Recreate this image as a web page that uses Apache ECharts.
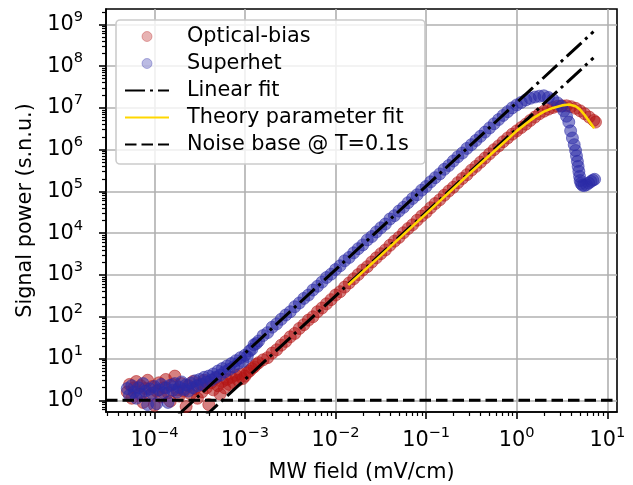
<!DOCTYPE html>
<html>
<head>
<meta charset="utf-8">
<script src="https://cdn.jsdelivr.net/npm/echarts@6/dist/echarts.min.js"></script>
<style>
html,body{margin:0;padding:0;background:#fff;}
#chart{width:633px;height:485px;}
</style>
</head>
<body>
<div id="chart"></div>
<script>
// ---------------- data ----------------
// shared field grid (mV/cm) for both measured series
const field = [
  5.012e-5, 5.309e-5, 5.623e-5, 5.957e-5, 6.310e-5, 6.683e-5, 7.079e-5, 7.499e-5, 7.943e-5, 8.414e-5,
  8.913e-5, 9.441e-5, 1.000e-4, 1.059e-4, 1.122e-4, 1.189e-4, 1.259e-4, 1.334e-4, 1.413e-4, 1.496e-4,
  1.585e-4, 1.679e-4, 1.778e-4, 1.884e-4, 1.995e-4, 2.113e-4, 2.239e-4, 2.371e-4, 2.512e-4, 2.661e-4,
  2.818e-4, 2.985e-4, 3.162e-4, 3.350e-4, 3.548e-4, 3.758e-4, 3.981e-4, 4.217e-4, 4.467e-4, 4.732e-4,
  5.012e-4, 5.309e-4, 5.623e-4, 5.957e-4, 6.310e-4, 6.683e-4, 7.079e-4, 7.499e-4, 7.943e-4, 8.414e-4,
  8.913e-4, 9.441e-4, 1.000e-3, 1.059e-3, 1.122e-3, 1.189e-3, 1.259e-3, 1.334e-3, 1.413e-3,
  1.585e-3, 1.778e-3, 1.995e-3, 2.239e-3, 2.512e-3, 2.818e-3, 3.162e-3, 3.548e-3, 3.981e-3, 4.467e-3,
  5.012e-3, 5.623e-3, 6.310e-3, 7.079e-3, 7.943e-3, 8.913e-3,
  1.000e-2, 1.122e-2, 1.259e-2, 1.413e-2, 1.585e-2, 1.778e-2, 1.995e-2, 2.239e-2, 2.512e-2, 2.818e-2,
  3.162e-2, 3.548e-2, 3.981e-2, 4.467e-2, 5.012e-2, 5.623e-2, 6.310e-2, 7.079e-2, 7.943e-2, 8.913e-2,
  0.1000, 0.1122, 0.1259, 0.1413, 0.1585, 0.1778, 0.1995, 0.2239, 0.2512, 0.2818,
  0.3162, 0.3548, 0.3981, 0.4467, 0.5012, 0.5623, 0.6310, 0.7079, 0.7943, 0.8913,
  1.000, 1.122, 1.259, 1.413, 1.585, 1.778
];
// Optical-bias signal power (s.n.u.)
const opticalPower = [
  1.58, 2.40, 1.12, 2.00, 2.82, 1.41, 2.24, 0.89, 1.91, 3.02,
  1.32, 2.14, 0.76, 1.66, 2.63, 1.20, 2.00, 3.16, 1.51, 0.95,
  2.40, 3.80, 1.78, 1.26, 2.51, 1.66, 0.71, 2.24, 1.41, 2.82,
  1.91, 1.12, 2.40, 1.58, 3.02, 2.00, 0.79, 2.63, 1.78, 3.31,
  2.24, 1.41, 2.82, 2.00, 3.16, 2.40, 3.55, 2.63, 3.98, 3.02,
  4.27, 3.31, 3.80, 4.57, 5.01, 5.75, 6.31, 7.24, 7.94,
  9.33, 10.5, 13.5, 16.2, 20.9, 25.7, 33.1, 39.8, 52.5, 64.6,
  83.2, 100, 132, 162, 204, 257,
  331, 398, 513, 646, 813, 1023, 1318, 1585, 2042, 2570,
  3236, 3981, 5129, 6457, 7943, 10230, 12880, 15850, 20420, 25700,
  31620, 40740, 51290, 63100, 81280, 1.023e5, 1.259e5, 1.622e5, 2.042e5, 2.512e5,
  3.236e5, 3.981e5, 5.012e5, 6.310e5, 7.943e5, 1.000e6, 1.230e6, 1.549e6, 1.905e6, 2.344e6,
  2.818e6, 3.388e6, 4.074e6, 5.012e6, 6.026e6, 7.244e6
];
// Superhet signal power (s.n.u.)
const superhetPower = [
  1.91, 1.32, 2.24, 1.58, 1.12, 2.00, 1.41, 2.51, 1.66, 0.79,
  1.86, 1.48, 2.14, 0.83, 1.78, 2.40, 1.51, 2.00, 0.89, 2.29,
  1.74, 2.51, 1.58, 2.04, 2.75, 1.82, 2.34, 1.66, 2.57, 2.00,
  2.95, 2.24, 3.16, 2.40, 3.55, 2.75, 3.80, 3.02, 4.27, 3.55,
  5.01, 3.98, 5.75, 4.79, 6.61, 5.50, 7.59, 6.31, 8.91, 7.59,
  10.5, 8.51, 12.0, 11.2, 15.1, 16.6, 21.4, 22.9, 26.3,
  35.5, 41.7, 56.2, 67.6, 87.1, 110, 132, 174, 214, 275,
  331, 437, 537, 676, 871, 1047,
  1349, 1660, 2188, 2630, 3388, 4266, 5248, 6918, 8318, 10720,
  13490, 16600, 21880, 26300, 33880, 41690, 53700, 67610, 83180, 1.072e5,
  1.318e5, 1.698e5, 2.138e5, 2.630e5, 3.388e5, 4.169e5, 5.370e5, 6.761e5, 8.318e5, 1.072e6,
  1.318e6, 1.660e6, 2.089e6, 2.630e6, 3.311e6, 4.169e6, 5.248e6, 6.607e6, 8.128e6, 1.000e7,
  1.175e7, 1.349e7, 1.549e7, 1.698e7, 1.820e7, 1.905e7
];
// high-field tails
const opticalTailField = [1.995, 2.239, 2.512, 2.818, 3.162, 3.548, 3.981, 4.467, 5.012, 5.623, 6.310, 7.079, 7.413];
const opticalTailPower = [8.318e6, 9.333e6, 1.023e7, 1.096e7, 1.122e7, 1.122e7, 1.072e7, 9.772e6, 8.511e6, 7.244e6, 6.026e6, 5.012e6, 4.571e6];
const superhetTailField = [1.995, 2.239, 2.512, 2.818, 3.090, 3.311, 3.548, 3.758, 3.936, 4.121, 4.315, 4.467, 4.571,
  4.677, 4.764, 4.853, 4.943, 5.012, 5.129, 5.309, 5.559, 5.888, 6.237, 6.607, 6.918, 7.244];
const superhetTailPower = [1.950e7, 1.778e7, 1.585e7, 1.318e7, 1.096e7, 8.51e6, 6.31e6, 4.57e6, 2.82e6, 1.905e6, 1.318e6, 9.55e5, 7.08e5,
  5.25e5, 3.98e5, 3.02e5, 2.29e5, 1.82e5, 1.55e5, 1.41e5, 1.38e5, 1.445e5, 1.585e5, 1.738e5, 1.862e5, 1.950e5];
// linear fits (slope 2 in log-log), end points
const fitField = [1.0e-4, 7.04];
const fitSuperhet = [0.134, 6.67e8];
const fitOptical = [0.0316, 1.57e8];
// theory parameter fit
const theoryField = [0.0138, 0.03162, 0.1, 0.3162, 0.631, 1.0, 1.259, 1.585, 1.995, 2.512, 3.162, 3.802, 4.467, 5.012, 5.623, 6.310, 7.161];
const theoryPower = [575, 2951, 29510, 2.951e5, 1.148e6, 2.818e6, 4.169e6, 6.026e6, 8.128e6, 1.0e7, 1.148e7, 1.202e7, 1.096e7, 9.12e6, 6.76e6, 4.786e6, 3.236e6];
// noise base level
const noiseLevel = 1;
// axes
const xMin = 2.92e-5, xMax = 12.8;
const yMin = 0.525, yMax = 2.33e9;
const xMajorTicks = [1e-4, 1e-3, 1e-2, 1e-1, 1e0, 1e1];
const yMajorTicks = [1e0, 1e1, 1e2, 1e3, 1e4, 1e5, 1e6, 1e7, 1e8, 1e9];

// ---------------- build ----------------
function minorTicks(lo, hi, eLo, eHi) {
  const out = [];
  for (let e = eLo; e <= eHi; e++) {
    for (let m = 2; m <= 9; m++) {
      const v = m * Math.pow(10, e);
      if (v > lo && v < hi) out.push(v);
    }
  }
  return out;
}
const xMinor = minorTicks(xMin, xMax, -5, 1);
const yMinor = minorTicks(yMin, yMax, -1, 9);

const zip = (a, b) => a.map((v, i) => [v, b[i]]);
const FONT = 'DejaVu Sans';
const FS = 20.8;

function powLabel(v) {
  const e = Math.round(Math.log10(v));
  if (Math.abs(Math.log10(v) - e) > 1e-6) return '';
  const s = e < 0 ? '\u2212' + (-e) : '' + e;
  return '{b|10}{s|' + s + '}';
}
const richLbl = {
  b: { fontSize: FS, lineHeight: 30, fontFamily: FONT, color: '#000', verticalAlign: 'middle' },
  s: { fontSize: 14.6, lineHeight: 16, fontFamily: FONT, color: '#000', verticalAlign: 'top' }
};

const red = 'rgba(180,20,20,0.68)';
const blue = 'rgba(42,42,167,0.68)';
const redLegend = 'rgba(180,20,20,0.4)';
const blueLegend = 'rgba(42,42,167,0.4)';
const noSym = { opacity: 0 };

const chart = echarts.init(document.getElementById('chart'), null, { renderer: 'canvas' });
const option = {
  animation: false,
  backgroundColor: '#fff',
  textStyle: { fontFamily: FONT },
  grid: {
    left: 106, right: 16, top: 9, bottom: 73, containLabel: false, outerBoundsMode: 'none',
    show: true, borderColor: '#000', borderWidth: 1.6, backgroundColor: 'transparent'
  },
  legend: {
    orient: 'vertical', left: 116, top: 20,
    data: [
      { name: 'Optical-bias', itemStyle: { color: redLegend, borderColor: redLegend, borderWidth: 1 } },
      { name: 'Superhet', itemStyle: { color: blueLegend, borderColor: blueLegend, borderWidth: 1 } },
      { name: 'Linear fit', itemStyle: noSym },
      { name: 'Theory parameter fit', itemStyle: noSym },
      { name: 'Noise base @ T=0.1s', itemStyle: noSym }
    ],
    itemWidth: 44, itemHeight: 10, itemGap: 6,
    textStyle: { fontSize: FS, color: '#000', fontFamily: FONT, lineHeight: 21, padding: [0, 0, 0, 13] },
    backgroundColor: 'rgba(255,255,255,0.8)', borderColor: '#cccccc', borderWidth: 1.6, borderRadius: 4,
    padding: [6, 16, 9, 8]
  },
  xAxis: [{
    type: 'log', logBase: 10, min: xMin, max: xMax, position: 'bottom',
    name: 'MW field (mV/cm)', nameLocation: 'middle', nameGap: 50,
    nameTextStyle: { fontSize: FS, color: '#000', fontFamily: FONT },
    axisLine: { show: true, lineStyle: { color: '#000', width: 1.6 } },
    axisTick: { show: true, length: 7, lineStyle: { color: '#000', width: 1.6 }, customValues: xMajorTicks },
    axisLabel: { customValues: xMajorTicks, formatter: powLabel, rich: richLbl, margin: 14 },
    splitLine: { show: true, lineStyle: { color: '#b0b0b0', width: 1.6 } },
    minorTick: { show: false }
  }, {
    type: 'log', logBase: 10, min: xMin, max: xMax, position: 'bottom', gridIndex: 0,
    axisLine: { show: false }, axisLabel: { show: false }, splitLine: { show: false },
    axisTick: { show: true, length: 4, lineStyle: { color: '#000', width: 1.2 }, customValues: xMinor }
  }],
  yAxis: [{
    type: 'log', logBase: 10, min: yMin, max: yMax, position: 'left', splitNumber: 10,
    name: 'Signal power (s.n.u.)', nameLocation: 'middle', nameGap: 70,
    nameTextStyle: { fontSize: FS, color: '#000', fontFamily: FONT },
    axisLine: { show: true, lineStyle: { color: '#000', width: 1.6 } },
    axisTick: { show: true, length: 7, lineStyle: { color: '#000', width: 1.6 }, customValues: yMajorTicks },
    axisLabel: { customValues: yMajorTicks, formatter: powLabel, rich: richLbl, margin: 23 },
    splitLine: { show: true, lineStyle: { color: '#b0b0b0', width: 1.6 } },
    minorTick: { show: false }
  }, {
    type: 'log', logBase: 10, min: yMin, max: yMax, position: 'left', gridIndex: 0,
    axisLine: { show: false }, axisLabel: { show: false }, splitLine: { show: false },
    axisTick: { show: true, length: 4, lineStyle: { color: '#000', width: 1.2 }, customValues: yMinor }
  }],
  series: [
    {
      name: 'Optical-bias', type: 'scatter', symbol: 'circle', symbolSize: 12,
      data: zip(field, opticalPower).concat(zip(opticalTailField, opticalTailPower)),
      itemStyle: { color: red, borderColor: red, borderWidth: 1 }, z: 2
    },
    {
      name: 'Superhet', type: 'scatter', symbol: 'circle', symbolSize: 12,
      data: zip(field, superhetPower).concat(zip(superhetTailField, superhetTailPower)),
      itemStyle: { color: blue, borderColor: blue, borderWidth: 1 }, z: 3
    },
    {
      name: 'Linear fit', type: 'line', symbol: 'none', showSymbol: false, clip: true,
      data: zip(fitField, fitSuperhet),
      lineStyle: { color: '#000', width: 3, type: [20, 5, 3, 5] }, itemStyle: { color: '#000' }, z: 4
    },
    {
      name: 'Linear fit', type: 'line', symbol: 'none', showSymbol: false, clip: true,
      data: zip(fitField, fitOptical),
      lineStyle: { color: '#000', width: 3, type: [20, 5, 3, 5] }, itemStyle: { color: '#000' }, z: 4
    },
    {
      name: 'Theory parameter fit', type: 'line', symbol: 'none', showSymbol: false, smooth: false, clip: true,
      data: zip(theoryField, theoryPower),
      lineStyle: { color: '#FFD700', width: 2.6 }, itemStyle: { color: '#FFD700' }, z: 5
    },
    {
      name: 'Noise base @ T=0.1s', type: 'line', symbol: 'none', showSymbol: false, clip: true,
      data: [[xMin, noiseLevel], [xMax, noiseLevel]],
      lineStyle: { color: '#000', width: 3, type: [11.5, 5] }, itemStyle: { color: '#000' }, z: 5
    }
  ]
};
chart.setOption(option);
</script>
</body>
</html>
